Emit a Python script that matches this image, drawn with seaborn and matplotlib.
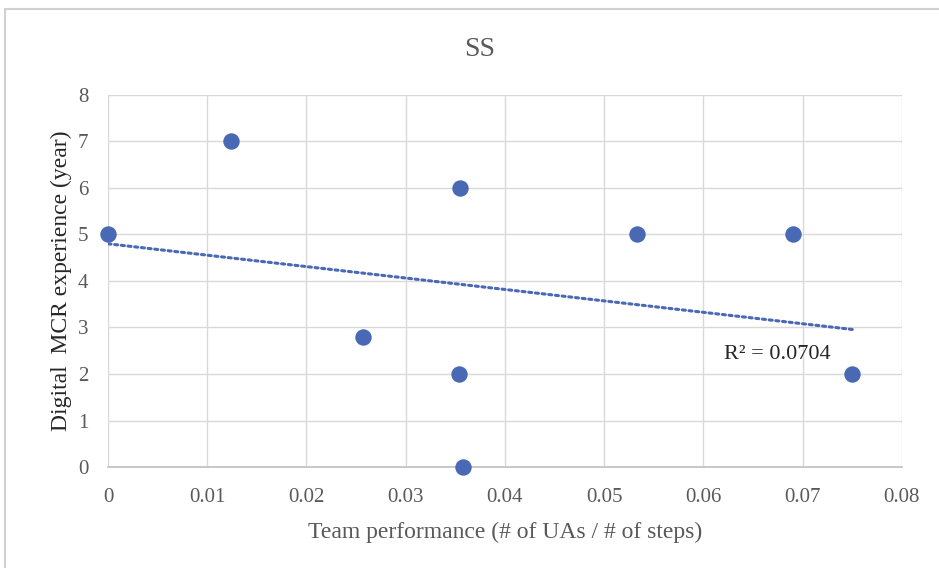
import numpy as np
import pandas as pd
import seaborn as sns
import matplotlib.pyplot as plt
from matplotlib.patches import Rectangle

# data
team_perf = [0.0, 0.0124, 0.0355, 0.0257, 0.0354, 0.0358, 0.0533, 0.0690, 0.0750]
experience = [5, 7, 6, 2.8, 2, 0, 5, 5, 2]
x_ticks = [0, 0.01, 0.02, 0.03, 0.04, 0.05, 0.06, 0.07, 0.08]
y_ticks = [0, 1, 2, 3, 4, 5, 6, 7, 8]
r2_label = "R\u00b2 = 0.0704"

df = pd.DataFrame({"perf": team_perf, "exp": experience})

sns.set_style("white")
plt.rcParams["font.family"] = ["Liberation Serif", "DejaVu Serif"]

blue = "#4a69b5"
text_col = "#595959"
grid_col = "#d9d9d9"

fig = plt.figure(figsize=(9.39, 5.68), dpi=100)
ax = fig.add_axes([0.115, 0.1778, 0.8455, 0.655])

sns.regplot(data=df, x="perf", y="exp", ax=ax, scatter=False, ci=None,
            truncate=True, color=blue,
            line_kws=dict(linestyle=(0, (1, 1.2)), linewidth=2.2,
                          dash_capstyle="round"))
sns.scatterplot(data=df, x="perf", y="exp", ax=ax, color=blue, s=140,
                edgecolor=blue, linewidth=0, zorder=5, clip_on=False)

ax.set_xlim(0, 0.08)
ax.set_ylim(0, 8)
ax.set_xticks(x_ticks)
ax.set_xticklabels([f"{t:g}" for t in x_ticks])
ax.set_yticks(y_ticks)
ax.grid(True, color=grid_col, linewidth=1)
ax.set_axisbelow(True)
for side in ["top", "right", "left"]:
    ax.spines[side].set_visible(False)
ax.spines["bottom"].set_color("#bfbfbf")
ax.spines["bottom"].set_linewidth(1.2)
ax.tick_params(length=0, labelsize=15, labelcolor=text_col)
ax.tick_params(axis="x", pad=15)
ax.tick_params(axis="y", pad=14)

# title sits centred on the chart area, not the plot area
ax.set_title("SS", fontsize=20, color=text_col, pad=28, x=0.4685)
ax.set_xlabel("Team performance (# of UAs / # of steps)", fontsize=17,
              color=text_col, labelpad=11)
ax.set_ylabel("Digital  MCR experience (year)", fontsize=17,
              color="#262626", labelpad=4)

ax.text(0.0621, 2.41, r2_label, fontsize=16, color="#262626",
        va="center", ha="left")

# outer chart frame
fig.patches.append(Rectangle((5 / 939, -0.05), 1.2, 1 - 9 / 568 + 0.05,
                             transform=fig.transFigure, fill=False,
                             edgecolor="#d0d0d0", linewidth=1.5))

fig.savefig("out.png", dpi=100)
